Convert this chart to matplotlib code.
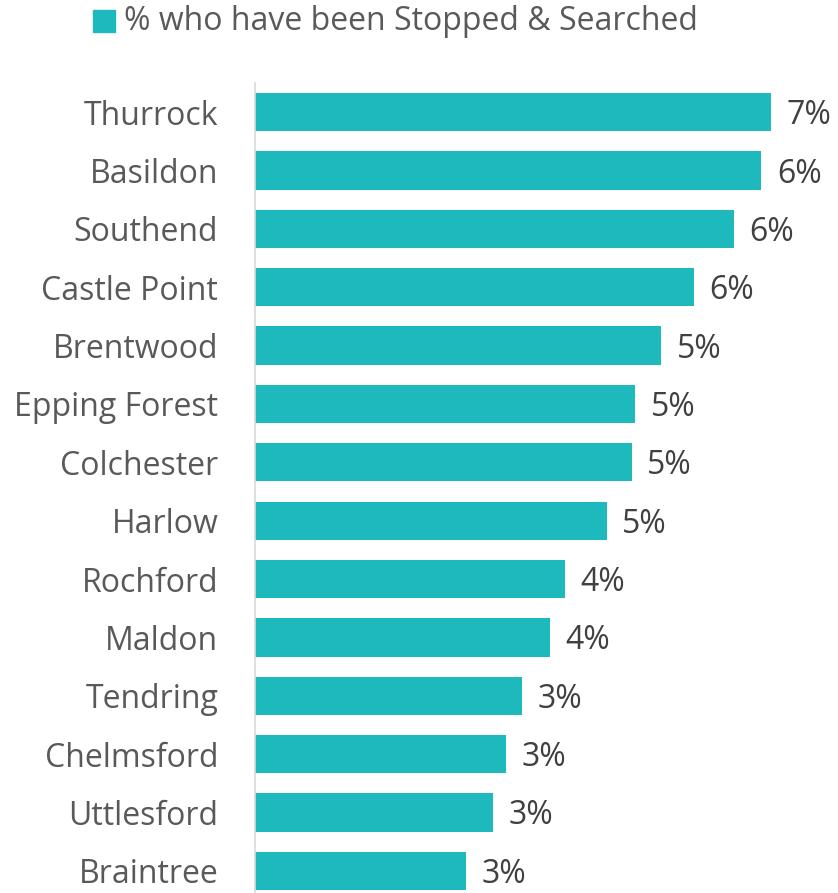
import matplotlib
matplotlib.use("Agg")
import matplotlib.pyplot as plt
from matplotlib.patches import Rectangle

categories = ["Thurrock", "Basildon", "Southend", "Castle Point", "Brentwood",
              "Epping Forest", "Colchester", "Harlow", "Rochford", "Maldon",
              "Tendring", "Chelmsford", "Uttlesford", "Braintree"]
values = [6.62, 6.49, 6.14, 5.63, 5.21, 4.87, 4.83, 4.51, 3.97, 3.78,
          3.42, 3.22, 3.05, 2.71]
value_labels = ["7%", "6%", "6%", "6%", "5%", "5%", "5%", "5%", "4%", "4%",
                "3%", "3%", "3%", "3%"]
legend_label = "% who have been Stopped & Searched"

W, H = 838, 893
fig = plt.figure(figsize=(W / 100, H / 100), dpi=100)
plt.rcParams['font.family'] = ['Open Sans', 'DejaVu Sans']

bar_color = "#1DB9BC"
label_color = "#595959"
val_color = "#404040"

# axes geometry (pixels)
ax_left, ax_right = 255, 805
ax_top, ax_bottom = 83, 900
ax = fig.add_axes([ax_left / W, 1 - ax_bottom / H, (ax_right - ax_left) / W,
                   (ax_bottom - ax_top) / H])
n = len(categories)
ypos = list(range(n))
ax.barh(ypos, values, height=0.655, color=bar_color)
ax.set_ylim(n - 0.5, -0.5)
ax.set_xlim(0, (ax_right - ax_left) / 78.0)
ax.set_yticks(ypos)
ax.set_yticklabels(categories, fontsize=23, color=label_color)
ax.tick_params(axis='y', length=0, pad=26.5)
ax.set_xticks([])
for s in ["top", "right", "bottom"]:
    ax.spines[s].set_visible(False)
ax.spines["left"].set_color("#D9D9D9")
ax.spines["left"].set_linewidth(1.2)

for y, v, lab in zip(ypos, values, value_labels):
    ax.text(v + 0.2, y + 0.06, lab, va="center", ha="left", fontsize=23,
            color=val_color, clip_on=False)

# legend
fig.patches.append(Rectangle((93 / W, 1 - 32 / H), 22 / W, 22 / H,
                             transform=fig.transFigure, color=bar_color))
fig.text(124 / W, 1 - 21 / H, legend_label, fontsize=23, color=label_color,
         va="center", ha="left")

fig.savefig("out.png", dpi=100)
